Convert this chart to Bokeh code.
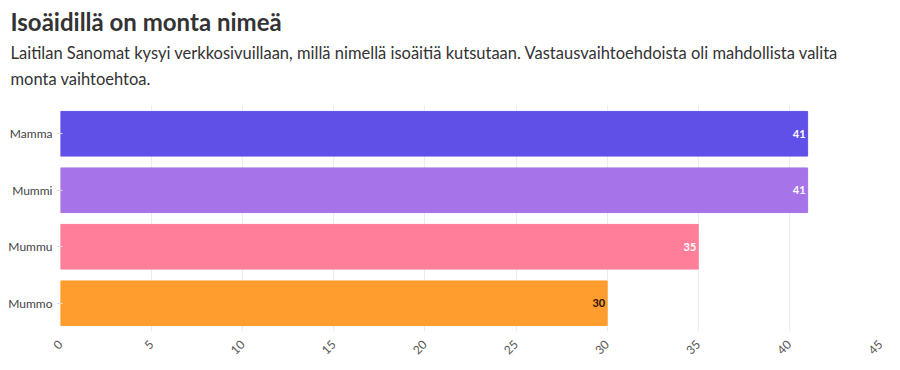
import math
from bokeh.plotting import figure
from bokeh.models import ColumnDataSource, FactorRange, Range1d, Title, FixedTicker
from bokeh.core.properties import value
from bokeh.embed import file_html
from bokeh.resources import INLINE

names = ["Mamma", "Mummi", "Mummu", "Mummo"]
counts = [41, 41, 35, 30]
colors = ["#6050E8", "#A673E8", "#FF7F9A", "#FF9E2F"]
label_colors = ["#ffffff", "#ffffff", "#ffffff", "#2b1200"]
x_ticks = [0, 5, 10, 15, 20, 25, 30, 35, 40, 45]

title_text = "Isoäidillä on monta nimeä"
subtitle_line1 = ("Laitilan Sanomat kysyi verkkosivuillaan, millä nimellä isoäitiä kutsutaan. "
                  "Vastausvaihtoehdoista oli mahdollista valita")
subtitle_line2 = "monta vaihtoehtoa."

src = ColumnDataSource(dict(name=names, count=counts, color=colors,
                            label=[str(c) for c in counts], lcolor=label_colors))

FONT = "Lato"

p = figure(y_range=FactorRange(*names[::-1], range_padding=0),
           x_range=Range1d(0, 45),
           width=892, height=361,
           output_backend="svg", toolbar_location=None,
           min_border_left=60, min_border_right=12, min_border_bottom=30,
           min_border_top=0,
           title=None)

# spacer between subtitle and plot area
p.add_layout(Title(text=" ", standoff=10, text_font_size="1px"), "above")
p.add_layout(Title(text=subtitle_line2, text_font=FONT, text_font_size="16.5px",
                   text_font_style="normal", text_color="#333333", offset=-50,
                   standoff=7), "above")
p.add_layout(Title(text=subtitle_line1, text_font=FONT, text_font_size="16.5px",
                   text_font_style="normal", text_color="#333333", offset=-50,
                   standoff=2), "above")
p.add_layout(Title(text=title_text, text_font=FONT, text_font_size="24px",
                   text_font_style="bold", text_color="#333333", offset=-50,
                   standoff=8), "above")

p.hbar(y="name", right="count", left=0, height=0.79, color="color", source=src)
p.text(x="count", y="name", text="label", source=src, text_align="right",
       text_baseline="middle", x_offset=-2, text_font=value(FONT),
       text_font_size="11px", text_font_style="bold", text_color="lcolor")

p.outline_line_color = None
p.ygrid.grid_line_color = None
p.xgrid.grid_line_color = "#ececec"
p.xaxis.ticker = FixedTicker(ticks=x_ticks)
p.xaxis.major_label_orientation = math.pi / 4
p.xaxis.axis_line_color = None
p.xaxis.major_tick_line_color = None
p.xaxis.minor_tick_line_color = None
p.xaxis.major_label_text_font = FONT
p.xaxis.major_label_text_font_size = "12px"
p.xaxis.major_label_text_color = "#555555"
p.yaxis.axis_line_color = None
p.yaxis.major_tick_line_color = "#dddddd"
p.yaxis.major_tick_out = 4
p.yaxis.major_label_text_font = FONT
p.yaxis.major_label_text_font_size = "12px"
p.yaxis.major_label_text_color = "#444444"
p.yaxis.major_label_standoff = 4

open("out.html", "w").write(file_html(p, INLINE))
